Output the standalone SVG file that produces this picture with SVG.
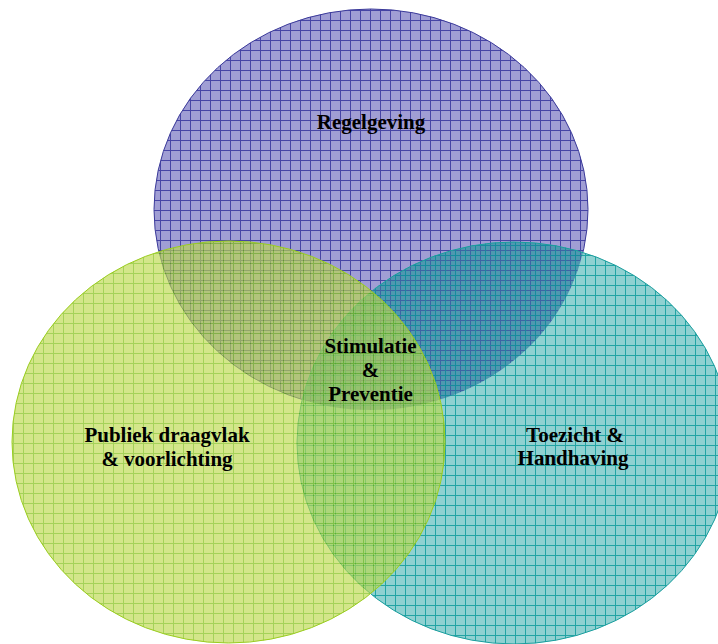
<svg xmlns="http://www.w3.org/2000/svg" width="718" height="644" viewBox="0 0 718 644">
<style>
.lbl{font-family:"Liberation Serif","Times New Roman",serif;font-weight:bold;font-size:21px;fill:#000;text-anchor:middle}
</style>
<defs>
<pattern id="pBlue" patternUnits="userSpaceOnUse" width="10" height="10">
<rect width="10" height="10" fill="#a09ed4"/>
<path d="M0 0.5H10M0.5 0V10" stroke="#4644a5" stroke-width="1" fill="none"/>
</pattern>
<pattern id="pTeal" patternUnits="userSpaceOnUse" x="5" y="5" width="10" height="10">
<rect width="10" height="10" fill="#8fd1d1"/>
<path d="M0 0.5H10M0.5 0V10" stroke="#22a4a4" stroke-width="1" fill="none"/>
</pattern>
<pattern id="pBlueTeal" patternUnits="userSpaceOnUse" width="10" height="10">
<rect width="10" height="10" fill="#4f98b0"/>
<path d="M0 0.5H10M0.5 0V10" stroke="#3c64a4" stroke-width="1" fill="none"/>
</pattern>
<pattern id="pTealLines" patternUnits="userSpaceOnUse" x="5" y="5" width="10" height="10">
<path d="M0 0.5H10M0.5 0V10" stroke="#168c9e" stroke-width="1" fill="none"/>
</pattern>
<pattern id="pGreen" patternUnits="userSpaceOnUse" x="3" y="3" width="10" height="10">
<rect width="10" height="10" fill="#bbd94b"/>
<path d="M0 0.5H10M0.5 0V10" stroke="#75ba00" stroke-width="1" fill="none"/>
</pattern>
<clipPath id="clipBlue">
<ellipse cx="371" cy="209.5" rx="217" ry="200.5"/>
</clipPath>
</defs>
<rect width="718" height="644" fill="#fff"/>
<g id="regelgeving">
<ellipse cx="371" cy="209.5" rx="217" ry="200.5" fill="url(#pBlue)" stroke="#3b3a9a" stroke-width="1"/>
</g>
<g id="toezicht">
<ellipse cx="514" cy="443" rx="217" ry="201" fill="url(#pTeal)"/>
<g clip-path="url(#clipBlue)">
<ellipse cx="514" cy="443" rx="217" ry="201" fill="url(#pBlueTeal)"/>
<ellipse cx="514" cy="443" rx="217" ry="201" fill="url(#pTealLines)"/>
</g>
<ellipse cx="514" cy="443" rx="217" ry="201" fill="none" stroke="#1a9e9e" stroke-width="1"/>
</g>
<g id="publiek">
<ellipse cx="228.5" cy="442" rx="216.5" ry="201" fill="url(#pGreen)" fill-opacity="0.65" stroke="#9acd20" stroke-width="1"/>
</g>
<g id="connectors"/>
<g id="labels">
<text class="lbl" x="371" y="129">Regelgeving</text>
<text class="lbl" x="370.5" y="353">Stimulatie</text>
<text class="lbl" x="370.5" y="377">&amp;</text>
<text class="lbl" x="370.5" y="401">Preventie</text>
<text class="lbl" x="167" y="442">Publiek draagvlak</text>
<text class="lbl" x="167" y="466">&amp; voorlichting</text>
<text class="lbl" x="575" y="442">Toezicht &amp;</text>
<text class="lbl" x="573" y="465">Handhaving</text>
</g>
</svg>
